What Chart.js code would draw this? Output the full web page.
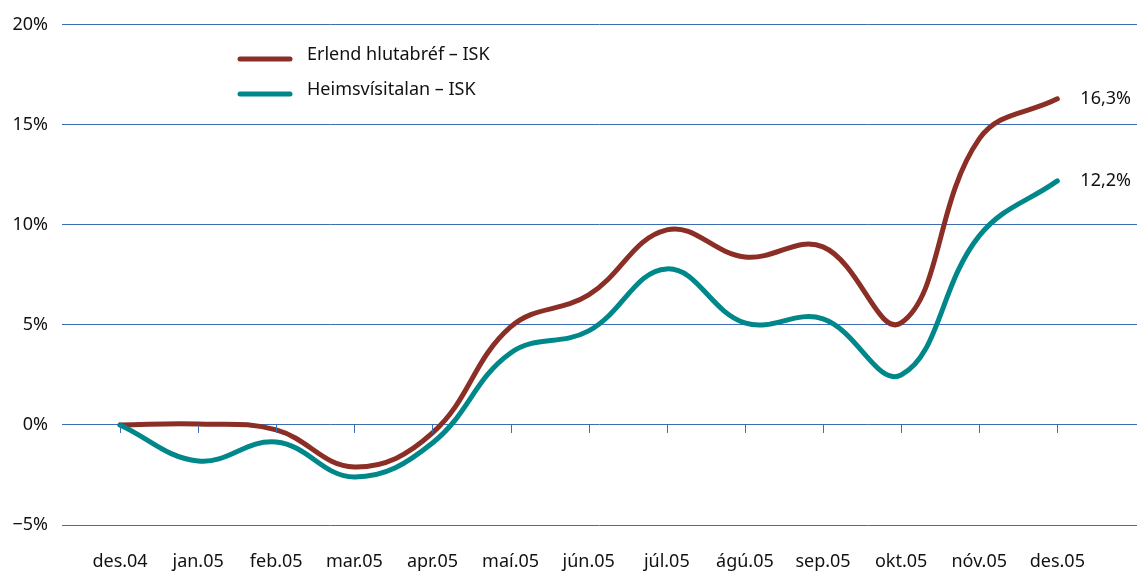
<!DOCTYPE html>
<html>
<head>
<meta charset="utf-8">
<script src="https://cdn.jsdelivr.net/npm/chart.js@4"></script>
<style>
  html, body { margin: 0; padding: 0; background: #fff; }
  #wrap { width: 1137px; height: 572px; }
</style>
</head>
<body>
<div id="wrap"><canvas id="myChart" width="1137" height="572"></canvas></div>
<script>
var months = ["des.04", "jan.05", "feb.05", "mar.05", "apr.05", "maí.05", "jún.05",
              "júl.05", "ágú.05", "sep.05", "okt.05", "nóv.05", "des.05"];
var erlend = [0, 0.05, -0.25, -2.1, -0.4, 4.9, 6.5, 9.75, 8.4, 8.9, 5.1, 14.3, 16.3];
var heims = [0, -1.8, -0.85, -2.6, -0.9, 3.6, 4.7, 7.8, 5.1, 5.3, 2.5, 9.45, 12.2];
var endLabels = ["16,3%", "12,2%"];
var yTicks = [-5, 0, 5, 10, 15, 20];

var red = '#8b2e25';
var teal = '#00878a';
var gridBlue = '#3d6db3';
var fontFam = '"Noto Sans", sans-serif';

function toPoints(arr) {
    return arr.map(function (v, i) { return { x: i, y: v }; });
}

// tick marks on the zero line, end labels and the legend
var extras = {
    id: 'extras',
    afterDatasetsDraw: function (chart) {
        var ctx = chart.ctx;
        var xs = chart.scales.x, ys = chart.scales.y;
        var y0 = ys.getPixelForValue(0);
        ctx.save();
        ctx.strokeStyle = gridBlue;
        ctx.lineWidth = 1;
        months.forEach(function (m, i) {
            var px = Math.round(xs.getPixelForValue(i)) + 0.5;
            ctx.beginPath();
            ctx.moveTo(px, y0);
            ctx.lineTo(px, y0 + 8);
            ctx.stroke();
        });

        ctx.font = '18px ' + fontFam;
        ctx.fillStyle = '#111';
        ctx.textBaseline = 'middle';
        ctx.textAlign = 'left';
        [erlend, heims].forEach(function (arr, k) {
            var last = arr.length - 1;
            var px = xs.getPixelForValue(last);
            var py = ys.getPixelForValue(arr[last]);
            ctx.fillText(endLabels[k], px + 23, py);
        });

        var items = [
            { text: 'Erlend hlutabréf \u2013 ISK', color: red, y: 59 },
            { text: 'Heimsvísitalan \u2013 ISK', color: teal, y: 94 }
        ];
        ctx.lineCap = 'round';
        items.forEach(function (it) {
            ctx.strokeStyle = it.color;
            ctx.lineWidth = 5;
            ctx.beginPath();
            ctx.moveTo(240, it.y);
            ctx.lineTo(290, it.y);
            ctx.stroke();
            ctx.fillText(it.text, 307, it.y - 4);
        });
        ctx.restore();
    }
};

var myChart = new Chart(document.getElementById("myChart").getContext('2d'), {
    type: 'line',
    data: {
        datasets: [{
            label: 'Heimsvísitalan – ISK',
            data: toPoints(heims),
            borderColor: teal,
            borderWidth: 5,
            borderCapStyle: 'round',
            pointRadius: 0,
            tension: 0.4,
            fill: false
        }, {
            label: 'Erlend hlutabréf – ISK',
            data: toPoints(erlend),
            borderColor: red,
            borderWidth: 5,
            borderCapStyle: 'round',
            pointRadius: 0,
            tension: 0.4,
            fill: false
        }]
    },
    options: {
        responsive: false,
        animation: false,
        layout: { padding: { top: 21, right: 0, bottom: 0, left: 0 } },
        plugins: {
            legend: { display: false },
            tooltip: { enabled: false }
        },
        scales: {
            x: {
                type: 'linear',
                min: -0.743,
                max: 13.02,
                afterBuildTicks: function (scale) {
                    scale.ticks = months.map(function (m, i) { return { value: i }; });
                },
                afterFit: function (scale) { scale.height = 47; },
                grid: { display: false },
                border: { display: false },
                ticks: {
                    padding: 18,
                    maxRotation: 0,
                    autoSkip: false,
                    color: '#111',
                    font: { family: fontFam, size: 18 },
                    callback: function (v) { return months[v] || ''; }
                }
            },
            y: {
                min: -5,
                max: 20,
                afterBuildTicks: function (scale) {
                    scale.ticks = yTicks.map(function (v) { return { value: v }; });
                },
                afterFit: function (scale) { scale.width = 62; },
                grid: { color: gridBlue, lineWidth: 1, drawTicks: false },
                border: { display: false },
                ticks: {
                    padding: 14,
                    color: '#111',
                    font: { family: fontFam, size: 18 },
                    callback: function (v) { return (v < 0 ? '\u2212' + Math.abs(v) : v) + '%'; }
                }
            }
        }
    },
    plugins: [extras]
});
</script>
</body>
</html>
